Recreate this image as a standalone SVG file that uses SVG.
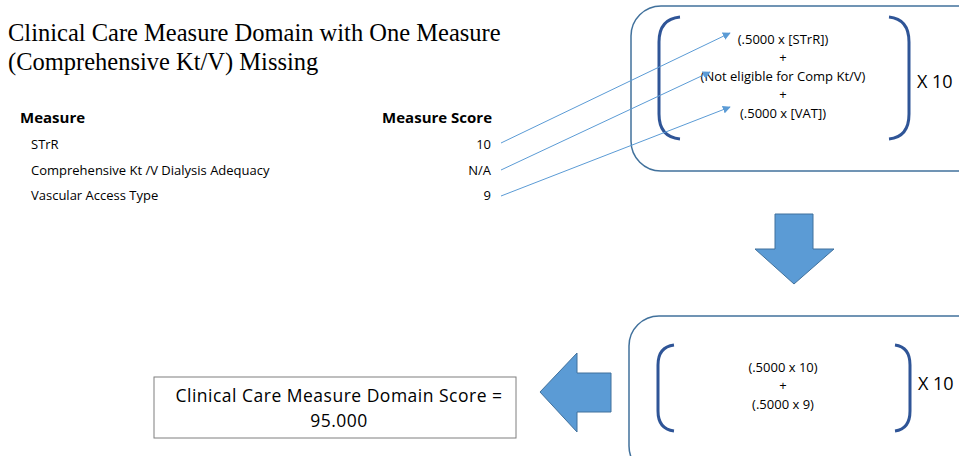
<svg xmlns="http://www.w3.org/2000/svg" width="959" height="456" viewBox="0 0 959 456">
<style>
.title{font-family:"Liberation Serif","Times New Roman",serif;font-size:24.5px;fill:#000}
.t{font-family:"Open Sans","Liberation Sans",sans-serif;font-size:13px;fill:#000}
.h{font-family:"Open Sans","Liberation Sans",sans-serif;font-size:15px;font-weight:bold;fill:#000}
.f{font-family:"Open Sans","Liberation Sans",sans-serif;font-size:13px;fill:#000;text-anchor:middle}
.x{font-family:"Open Sans","Liberation Sans",sans-serif;font-size:18px;fill:#000}
.r{font-family:"Open Sans","Liberation Sans",sans-serif;font-size:17.5px;fill:#000;text-anchor:middle;letter-spacing:0.5px}
.box{fill:#fff;stroke:#41719C;stroke-width:1.5}
.br{fill:none;stroke:#2F5597;stroke-width:3}
.blk{fill:#5B9BD5;stroke:#41719C;stroke-width:1}
.ln{stroke:#5B9BD5;stroke-width:1;fill:none;marker-end:url(#ah)}
</style>
<defs>
<marker id="ah" viewBox="0 0 10 10" refX="9" refY="5" markerWidth="8" markerHeight="8" orient="auto" markerUnits="userSpaceOnUse">
<path d="M0,0 L10,5 L0,10 z" fill="#5B9BD5"/>
</marker>
</defs>
<rect width="959" height="456" fill="#fff"/>
<g id="title">
<text class="title" x="8" y="41">Clinical Care Measure Domain with One Measure</text>
<text class="title" x="8" y="70">(Comprehensive Kt/V) Missing</text>
</g>
<g id="table">
<text class="h" x="20" y="123">Measure</text>
<text class="h" x="492" y="123" text-anchor="end">Measure Score</text>
<text class="t" x="31" y="149">STrR</text>
<text class="t" x="31" y="175">Comprehensive Kt /V Dialysis Adequacy</text>
<text class="t" x="31" y="200">Vascular Access Type</text>
<text class="t" x="491" y="149" text-anchor="end">10</text>
<text class="t" x="491" y="175" text-anchor="end">N/A</text>
<text class="t" x="491" y="200" text-anchor="end">9</text>
</g>
<g id="formula-box">
<rect class="box" x="631" y="6" width="360" height="165" rx="30"/>
<path class="br" d="M680,17 Q659,19 659,42 L659,114 Q659,137 680,139"/>
<path class="br" d="M889,17 Q909,19 909,42 L909,114 Q909,137 889,139"/>
<text class="f" x="783" y="44">(.5000 x [STrR])</text>
<text class="f" x="783" y="62">+</text>
<text class="f" x="783" y="81">(Not eligible for Comp Kt/V)</text>
<text class="f" x="783" y="99">+</text>
<text class="f" x="783" y="118">(.5000 x [VAT])</text>
<text class="x" x="917" y="88">X 10</text>
</g>
<g id="connectors">
<line class="ln" x1="501" y1="143" x2="730" y2="33"/>
<line class="ln" x1="501" y1="170" x2="710" y2="72"/>
<line class="ln" x1="501" y1="196" x2="730" y2="107"/>
</g>
<g id="down-arrow">
<path class="blk" d="M775,214 L813,214 L813,249 L834,249 L794,284 L755,249 L775,249 Z"/>
</g>
<g id="result-formula-box">
<rect class="box" x="629" y="316" width="360" height="160" rx="30"/>
<path class="br" d="M674,345 Q658,347 658,365 L658,411 Q658,429 674,431"/>
<path class="br" d="M895,345 Q910,347 910,365 L910,411 Q910,429 895,431"/>
<text class="f" x="783" y="372">(.5000 x 10)</text>
<text class="f" x="783" y="390">+</text>
<text class="f" x="783" y="409">(.5000 x 9)</text>
<text class="x" x="918" y="390">X 10</text>
</g>
<g id="left-arrow">
<path class="blk" d="M611,373 L611,412 L577,412 L577,432 L540,392 L577,353 L577,373 Z"/>
</g>
<g id="score-box">
<rect x="154" y="377" width="362" height="61" fill="#fff" stroke="#7F7F7F" stroke-width="1"/>
<text class="r" x="339" y="402">Clinical Care Measure Domain Score =</text>
<text class="r" x="339" y="427">95.000</text>
</g>
</svg>
